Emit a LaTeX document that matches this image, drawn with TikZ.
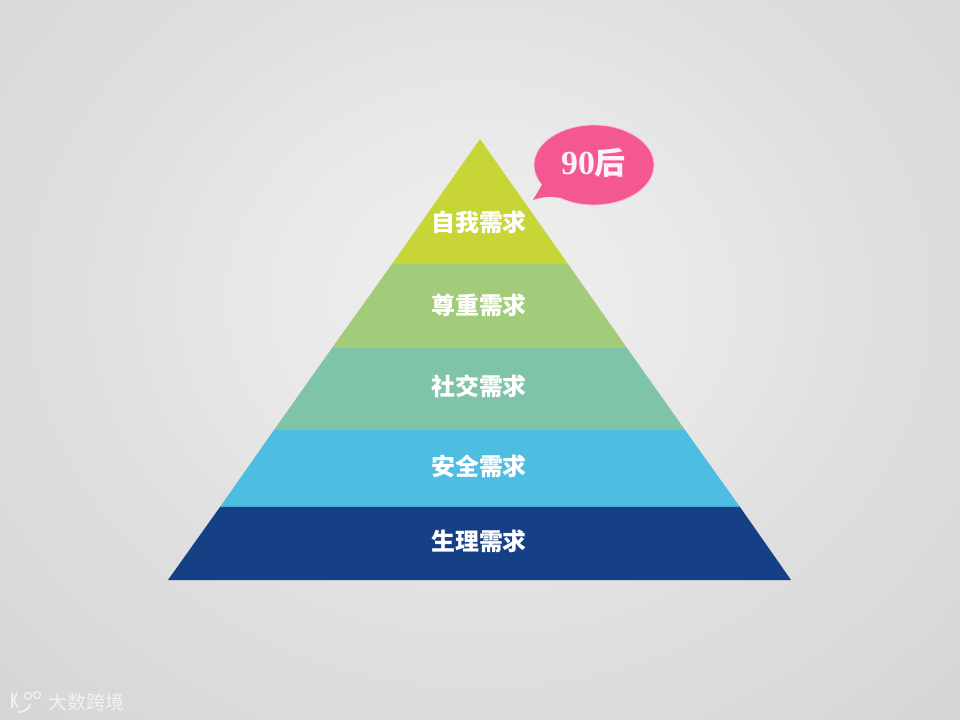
\documentclass[tikz,border=0pt]{standalone}
\usepackage{fontspec}
\setmainfont{Liberation Serif}
\newfontfamily\cjk{Noto Sans CJK SC}
\usetikzlibrary{positioning, shapes.geometric}
\definecolor{selfYellow}{RGB}{199, 213, 54}
\definecolor{esteemGreen}{RGB}{162, 203, 122}
\definecolor{socialTeal}{RGB}{127, 195, 168}
\definecolor{safetyBlue}{RGB}{77, 189, 226}
\definecolor{bodyNavy}{RGB}{21, 64, 133}
\definecolor{bubblePink}{RGB}{243, 88, 146}
\definecolor{bubbleEdge}{RGB}{250, 190, 215}
\pgfdeclareradialshading{paper}{\pgfpoint{0bp}{0bp}}{%
  color(0bp)=(black!6); color(8bp)=(black!9); color(13bp)=(black!12);
  color(21bp)=(black!15); color(25bp)=(black!17); color(50bp)=(black!17)}

\begin{document}
\begin{tikzpicture}[x=0.025cm, y=-0.025cm,
          lbl/.style={font=\cjk\bfseries\fontsize{17}{20}\selectfont, text=white, inner sep=0pt},
          logo/.style={white!95!black, line width=1.3pt}
        ]
        \useasboundingbox (0,0) rectangle (960,720);
        \begin{scope}
          \clip (0,0) rectangle (960,720);
          \shade[shading=paper] (-220,-300) rectangle (1180,900);
        \end{scope}

        % pyramid, top to bottom
        \fill[selfYellow]  (480,139) -- (568,264) -- (392,264) -- cycle;
        \fill[esteemGreen] (392,264) -- (568,264) -- (627,348) -- (332,348) -- cycle;
        \fill[socialTeal]  (332,348) -- (627,348) -- (685,430) -- (274,430) -- cycle;
        \fill[safetyBlue]  (274,430) -- (685,430) -- (740,507) -- (220,507) -- cycle;
        \fill[bodyNavy]    (220,507) -- (740,507) -- (791,580) -- (168,580) -- cycle;

        \node[lbl] (self)   at (479,222) {自我需求};
        \node[lbl] (esteem) at (479,305) {尊重需求};
        \node[lbl] (social) at (479,386) {社交需求};
        \node[lbl] (safety) at (479,466) {安全需求};
        \node[lbl] (body)   at (479,541) {生理需求};

        % speech bubble
        \node[ellipse, fill=bubblePink, draw=bubbleEdge, line width=0.6pt, minimum width=3cm,
              minimum height=2cm, inner sep=0pt] (bubble) at (594,165) {};
        \coordinate (tip) at (533,200);
        \fill[bubblePink] (tip) -- (543,183) -- (560,198) .. controls (550,196) and (542,197) .. (tip);
        \node[inner sep=0pt, text=white!92!bubblePink] (age) at (593.5,163)
              {\fontsize{24}{26}\selectfont\bfseries 90{\cjk\fontsize{22}{24}\selectfont 后}};

        % watermark
        \draw[logo] (12,693) -- (12,708);
        \draw[logo] (17,693) -- (13.5,701) -- (18,707);
        \draw[logo] (18,712) .. controls (25,712) and (29,709) .. (30,704);
        \draw[logo, line width=0.9pt] (28,696) circle (3.5);
        \draw[logo, line width=0.9pt] (37,695) circle (3.5);
        \node[inner sep=0pt, text=white!95!black, font=\cjk\fontsize{13.5}{15}\selectfont,
              anchor=west] (brand) at (48,702) {大数跨境};
\end{tikzpicture}
\end{document}
